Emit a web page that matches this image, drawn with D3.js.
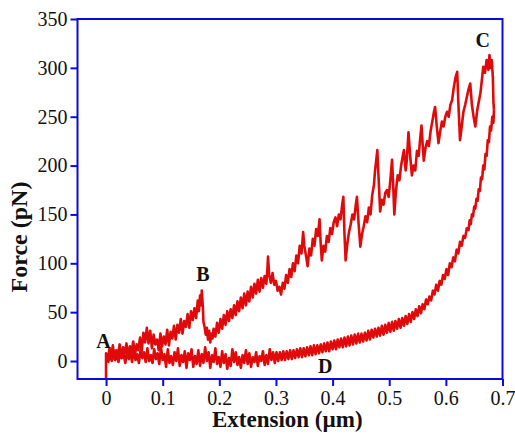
<!DOCTYPE html>
<html>
	<head>
		<meta charset="utf-8">
		<style type="text/css">
			body { margin: 0; background: #fff; }
			svg  { display: block; }
			text { font-family: "Liberation Serif", "Times New Roman", serif; }
		</style>
		<title>Force vs extension</title>
	</head>
	<body>
		<script src="https://cdn.jsdelivr.net/npm/d3@7/dist/d3.min.js"></script>
		<script>

// ---- data: [extension (um), force (pN)]
var approach = [[0.000,-18],[0.000,8],[0.003,1],[0.006,13],[0.009,5],[0.012,16],[0.015,2],[0.018,11],[0.021,7],[0.024,17],[0.027,3],[0.030,14],[0.033,8],[0.036,18],[0.039,4],[0.042,15],[0.045,9],[0.048,20],[0.051,6],[0.054,17],[0.057,11],[0.060,24],[0.063,10],[0.066,29],[0.069,19],[0.072,34],[0.075,18],[0.078,31],[0.081,13],[0.084,27],[0.087,17],[0.090,22],[0.093,11],[0.096,28],[0.099,15],[0.102,25],[0.105,17],[0.108,32],[0.111,16],[0.114,30],[0.117,23],[0.120,36],[0.123,22],[0.126,37],[0.129,29],[0.132,43],[0.135,28],[0.138,41],[0.141,35],[0.144,48],[0.147,34],[0.150,51],[0.153,42],[0.156,54],[0.159,44],[0.162,62],[0.164,51],[0.166,67],[0.168,57],[0.169,72],[0.170,64],[0.171,55],[0.172,40],[0.174,35],[0.176,27],[0.178,34],[0.180,22],[0.182,31],[0.184,19],[0.186,28],[0.188,23],[0.190,33],[0.193,25],[0.196,39],[0.199,29],[0.202,43],[0.205,33],[0.208,47],[0.211,37],[0.214,51],[0.217,41],[0.220,53],[0.223,44],[0.226,57],[0.229,47],[0.232,61],[0.235,51],[0.238,65],[0.241,54],[0.244,69],[0.247,57],[0.250,71],[0.253,61],[0.256,76],[0.259,65],[0.262,79],[0.265,69],[0.268,83],[0.271,71],[0.274,85],[0.277,75],[0.280,87],[0.283,79],[0.285,95],[0.286,107],[0.288,88],[0.291,80],[0.294,90],[0.297,78],[0.300,82],[0.303,72],[0.306,76],[0.309,68],[0.312,80],[0.315,74],[0.318,88],[0.321,80],[0.324,94],[0.327,86],[0.330,100],[0.333,92],[0.336,108],[0.339,100],[0.342,118],[0.345,110],[0.348,132],[0.350,118],[0.353,108],[0.356,97],[0.359,115],[0.362,108],[0.365,125],[0.368,118],[0.371,135],[0.374,128],[0.377,145],[0.379,120],[0.381,103],[0.384,118],[0.387,112],[0.390,128],[0.393,122],[0.396,136],[0.399,130],[0.402,142],[0.405,147],[0.408,138],[0.411,150],[0.414,145],[0.417,160],[0.419,168],[0.421,130],[0.423,103],[0.426,120],[0.429,132],[0.432,140],[0.435,150],[0.438,145],[0.441,160],[0.443,168],[0.446,140],[0.449,117],[0.452,130],[0.455,138],[0.458,148],[0.461,142],[0.464,157],[0.467,150],[0.470,170],[0.473,180],[0.475,195],[0.477,205],[0.479,216],[0.481,190],[0.484,153],[0.487,165],[0.490,160],[0.493,172],[0.496,175],[0.499,168],[0.502,185],[0.505,206],[0.507,180],[0.509,150],[0.512,175],[0.515,190],[0.518,185],[0.521,200],[0.524,210],[0.526,216],[0.529,195],[0.531,205],[0.534,234],[0.537,210],[0.540,190],[0.543,200],[0.546,195],[0.549,215],[0.552,210],[0.555,230],[0.557,241],[0.559,222],[0.561,205],[0.564,218],[0.567,225],[0.570,220],[0.573,235],[0.576,245],[0.579,255],[0.581,260],[0.584,240],[0.587,223],[0.590,235],[0.593,245],[0.596,240],[0.599,250],[0.602,255],[0.605,250],[0.608,262],[0.611,267],[0.614,280],[0.617,290],[0.620,296],[0.622,265],[0.625,226],[0.628,240],[0.631,255],[0.634,262],[0.637,270],[0.640,278],[0.643,284],[0.646,262],[0.649,250],[0.652,240],[0.655,255],[0.658,265],[0.661,274],[0.664,290],[0.666,301],[0.669,295],[0.672,308],[0.675,298],[0.677,313],[0.679,300],[0.681,308],[0.683,290],[0.684,265],[0.685,257]];

var retract = [[0.685,257],[0.684,244],[0.682,250],[0.680,236],[0.678,240],[0.676,224],[0.674,226],[0.672,210],[0.670,212],[0.668,196],[0.666,200],[0.664,186],[0.662,188],[0.660,174],[0.658,176],[0.656,164],[0.654,166],[0.652,156],[0.650,158],[0.648,148],[0.646,150],[0.644,140],[0.642,144],[0.640,134],[0.637,136],[0.634,126],[0.631,128],[0.628,118],[0.625,122],[0.622,110],[0.619,114],[0.616,102],[0.613,106],[0.610,96],[0.607,100],[0.604,88],[0.601,94],[0.598,84],[0.595,88],[0.592,78],[0.589,82],[0.586,72],[0.583,78],[0.580,68],[0.577,72],[0.574,62],[0.571,66],[0.568,58],[0.565,63],[0.562,53],[0.559,58],[0.556,49],[0.553,56],[0.550,46],[0.547,53],[0.544,43],[0.541,50],[0.538,40],[0.535,48],[0.532,38],[0.529,46],[0.526,36],[0.523,44],[0.520,34],[0.517,43],[0.514,33],[0.511,41],[0.508,31],[0.505,40],[0.502,30],[0.499,39],[0.496,29],[0.493,37],[0.490,27],[0.487,36],[0.484,26],[0.481,34],[0.478,25],[0.475,33],[0.472,24],[0.469,32],[0.466,22],[0.463,31],[0.460,21],[0.457,29],[0.454,20],[0.451,28],[0.448,19],[0.445,28],[0.442,18],[0.439,27],[0.436,17],[0.433,26],[0.430,16],[0.427,25],[0.424,15],[0.421,24],[0.418,14],[0.415,23],[0.412,14],[0.409,22],[0.406,12],[0.403,21],[0.400,12],[0.397,20],[0.394,10],[0.391,19],[0.388,10],[0.385,18],[0.382,9],[0.379,17],[0.376,8],[0.373,16],[0.370,7],[0.367,16],[0.364,6],[0.361,15],[0.358,6],[0.355,14],[0.352,5],[0.349,13],[0.346,4],[0.343,13],[0.340,4],[0.337,12],[0.334,3],[0.331,11],[0.328,2],[0.325,11],[0.322,2],[0.319,10],[0.316,1],[0.313,10],[0.310,1],[0.307,9],[0.304,0],[0.301,9],[0.298,-2],[0.295,9],[0.292,1],[0.289,12],[0.286,-3],[0.283,6],[0.280,-4],[0.277,10],[0.274,0],[0.271,5],[0.268,-5],[0.265,9],[0.262,-1],[0.259,4],[0.256,-6],[0.253,8],[0.250,-3],[0.247,11],[0.244,-2],[0.241,6],[0.238,-7],[0.235,4],[0.232,-4],[0.229,9],[0.226,-1],[0.223,12],[0.220,-5],[0.217,3],[0.214,-8],[0.211,7],[0.208,-2],[0.205,10],[0.202,-6],[0.199,4],[0.196,-3],[0.193,13],[0.190,-1],[0.187,6],[0.184,-7],[0.181,9],[0.178,0],[0.175,14],[0.172,-2],[0.169,7],[0.166,-5],[0.163,11],[0.160,-3],[0.157,5],[0.154,-6],[0.151,12],[0.148,1],[0.145,8],[0.142,-7],[0.139,10],[0.136,-1],[0.133,6],[0.130,-5],[0.127,13],[0.124,0],[0.121,9],[0.118,-4],[0.115,5],[0.112,-2],[0.109,12],[0.106,-6],[0.103,7],[0.100,1],[0.097,14],[0.094,-3],[0.091,8],[0.088,2],[0.085,12],[0.082,-2],[0.079,6],[0.076,0],[0.073,13],[0.070,-1],[0.067,9],[0.064,3],[0.061,11],[0.058,-2],[0.055,7],[0.052,1],[0.049,12],[0.046,-1],[0.043,8],[0.040,2],[0.037,10],[0.034,-2],[0.031,7],[0.028,3],[0.025,12],[0.022,-1],[0.019,6],[0.016,1],[0.013,11],[0.010,0],[0.007,7],[0.004,-1],[0.001,5]];

// point labels on the curve
var markNames = ["A", "B", "C", "D"];
var markPos = [[-0.0045, 13], [0.171, 82], [0.665, 321], [0.387, -12.5]];

var xTicks = [0, 0.1, 0.2, 0.3, 0.4, 0.5, 0.6, 0.7];
var xTickLabels = ["0", "0.1", "0.2", "0.3", "0.4", "0.5", "0.6", "0.7"];
var yTicks = [0, 50, 100, 150, 200, 250, 300, 350];

var blue = "#0a0ae0",
	red = "#e00a0a";

var margin = {top: 19, left: 77.5},
	width = 515,
	height = 439,
	w = 425,
	h = 360;

var svg = d3.select("body").append("svg")
	.attr("width", width)
	.attr("height", height);

var g = svg.append("g").attr("transform", "translate(" + margin.left + "," + margin.top + ")");

var x = d3.scaleLinear().domain([-0.0504, 0.7]).range([0, w]);
var y = d3.scaleLinear().domain([-18.4, 350]).range([h, 0]);

var line = d3.line()
	.x(function(d) { return x(d[0]); })
	.y(function(d) { return y(d[1]); });

// curves first, frame on top
[retract, approach].forEach(function(data) {
	g.append("path")
		.datum(data)
		.attr("d", line)
		.attr("fill", "none")
		.attr("stroke", red)
		.attr("stroke-width", 2.6)
		.attr("stroke-linejoin", "round");
});

// axes
var xAxis = g.append("g")
	.attr("transform", "translate(0," + h + ")")
	.call(d3.axisBottom(x)
		.tickValues(xTicks)
		.tickFormat(function(d, i) { return xTickLabels[i]; })
		.tickSize(7)
		.tickPadding(5)
		.tickSizeOuter(0));

var yAxis = g.append("g")
	.call(d3.axisLeft(y)
		.tickValues(yTicks)
		.tickSize(7)
		.tickPadding(3)
		.tickSizeOuter(0));

[xAxis, yAxis].forEach(function(a) {
	a.select(".domain").remove();
	a.selectAll(".tick line").attr("stroke", blue).attr("stroke-width", 2);
	a.selectAll(".tick text")
		.attr("fill", "#111")
		.style("font-size", "20px")
		.style("font-family", "'Liberation Serif', serif");
});

// box frame
g.append("rect")
	.attr("x", 0)
	.attr("y", 0)
	.attr("width", w)
	.attr("height", h)
	.attr("fill", "none")
	.attr("stroke", blue)
	.attr("stroke-width", 2);

// letters
g.selectAll(".mark")
	.data(markNames)
	.enter().append("text")
	.attr("class", "mark")
	.attr("x", function(d, i) { return x(markPos[i][0]); })
	.attr("y", function(d, i) { return y(markPos[i][1]); })
	.attr("text-anchor", "middle")
	.attr("font-weight", "bold")
	.attr("font-size", 20)
	.attr("fill", "#111")
	.text(function(d) { return d; });

// axis titles
svg.append("text")
	.attr("x", margin.left + x(0.32))
	.attr("y", 427)
	.attr("text-anchor", "middle")
	.attr("font-weight", "bold")
	.attr("font-size", 23)
	.attr("fill", "#111")
	.text("Extension (\u00b5m)");

svg.append("text")
	.attr("transform", "translate(27,237) rotate(-90)")
	.attr("text-anchor", "middle")
	.attr("font-weight", "bold")
	.attr("font-size", 24)
	.attr("fill", "#111")
	.text("Force (pN)");

		</script>
	</body>
</html>
